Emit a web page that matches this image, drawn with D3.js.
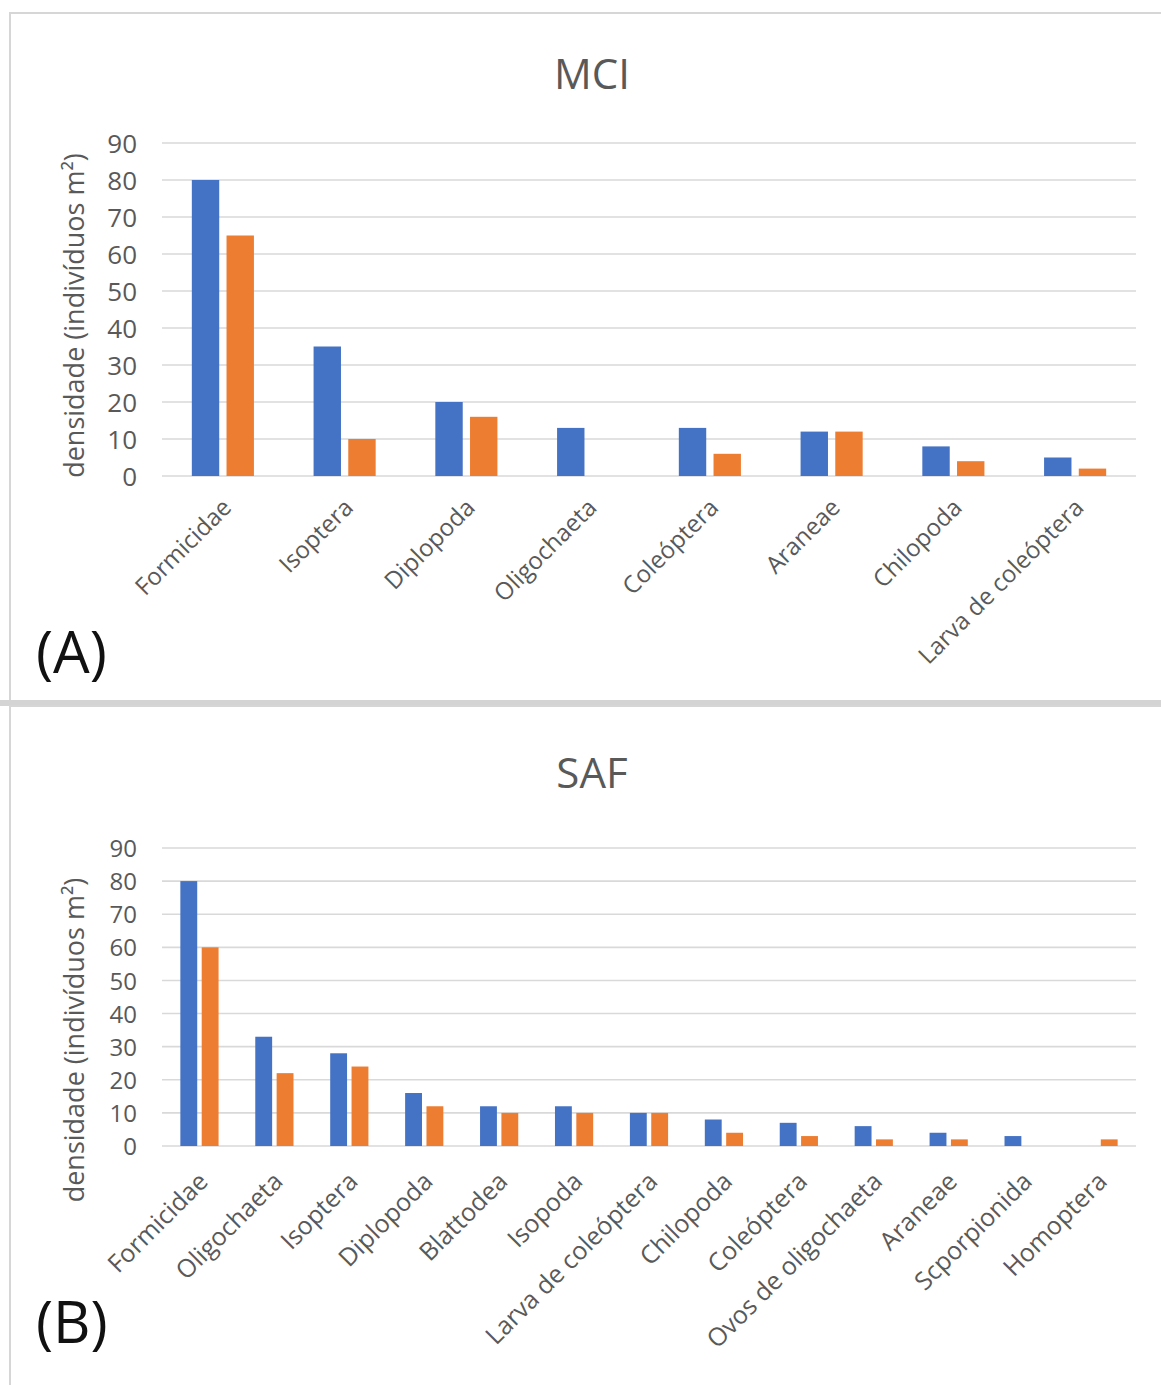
<!DOCTYPE html>
<html>
<head>
<meta charset="utf-8">
<script src="https://cdn.jsdelivr.net/npm/d3@7"></script>
<style>
  html, body { margin: 0; padding: 0; background: #fff; }
  svg { display: block; }
  text { font-family: "Open Sans", "Noto Sans", sans-serif; }
</style>
</head>
<body>
<svg id="chart" width="1161" height="1385"></svg>
<script>
// ---- Data ----
const categoriesA = ["Formicidae", "Isoptera", "Diplopoda", "Oligochaeta", "Coleóptera", "Araneae", "Chilopoda", "Larva de coleóptera"];
const series1A = [80, 35, 20, 13, 13, 12, 8, 5];
const series2A = [65, 10, 16, 0, 6, 12, 4, 2];

const categoriesB = ["Formicidae", "Oligochaeta", "Isoptera", "Diplopoda", "Blattodea", "Isopoda", "Larva de coleóptera", "Chilopoda", "Coleóptera", "Ovos de oligochaeta", "Araneae", "Scporpionida", "Homoptera"];
const series1B = [80, 33, 28, 16, 12, 12, 10, 8, 7, 6, 4, 3, 0];
const series2B = [60, 22, 24, 12, 10, 10, 10, 4, 3, 2, 2, 0, 2];

const yTicks = [0, 10, 20, 30, 40, 50, 60, 70, 80, 90];
const titles = ["MCI", "SAF"];
const panelLabels = ["(A)", "(B)"];
const yAxisTitle = "densidade (indivíduos m²)";

const colors = ["#4472C4", "#ED7D31"];
const textGrey = "#595959";

const svg = d3.select("#chart");

// Panel frames
svg.append("rect").attr("x", 10).attr("y", 13).attr("width", 1160).attr("height", 688)
  .attr("fill", "#fff").attr("stroke", "#d6d6d6").attr("stroke-width", 2);
svg.append("rect").attr("x", 0).attr("y", 700).attr("width", 1161).attr("height", 6).attr("fill", "#d4d4d4");
svg.append("rect").attr("x", 10).attr("y", 706).attr("width", 1160).attr("height", 700)
  .attr("fill", "#fff").attr("stroke", "#d6d6d6").attr("stroke-width", 2);

function drawPanel(cfg) {
  const g = svg.append("g");
  const x = d3.scaleBand().domain(cfg.categories).range([162, 1136]).padding(0);
  const y = d3.scaleLinear().domain([0, 90]).range([cfg.y0, cfg.y90]);

  // gridlines
  g.append("g").selectAll("line").data(yTicks).join("line")
    .attr("x1", 162).attr("x2", 1136)
    .attr("y1", d => y(d)).attr("y2", d => y(d))
    .attr("stroke", "#d9d9d9").attr("stroke-width", 1.6);

  // y axis labels
  const yAxis = d3.axisLeft(y).tickValues(yTicks).tickSize(0).tickPadding(0);
  const ya = g.append("g").attr("transform", "translate(137,0)").call(yAxis);
  ya.select(".domain").remove();
  ya.selectAll("text").attr("font-size", cfg.tickFont).attr("fill", textGrey)
    .attr("font-family", "'Open Sans', sans-serif").attr("dy", "0.36em");

  // bars
  const bw = x.bandwidth() * 0.225;
  const gap = x.bandwidth() * 0.06;
  [cfg.s1, cfg.s2].forEach((s, si) => {
    g.append("g").selectAll("rect").data(cfg.categories).join("rect")
      .attr("x", (c) => x(c) + x.bandwidth() / 2 + (si === 0 ? -(bw + gap / 2) : gap / 2))
      .attr("y", (c, i) => y(s[i]))
      .attr("width", bw)
      .attr("height", (c, i) => y(0) - y(s[i]))
      .attr("fill", colors[si]);
  });

  // x axis labels
  const xAxis = d3.axisBottom(x).tickSize(0).tickPadding(0);
  const xa = g.append("g").attr("transform", `translate(0,${cfg.y0})`).call(xAxis);
  xa.select(".domain").remove();
  xa.selectAll("text")
    .attr("font-size", cfg.xFont).attr("fill", textGrey)
    .attr("text-anchor", "end")
    .attr("font-family", "'Open Sans', sans-serif")
    .attr("dy", null).attr("y", null)
    .attr("transform", `translate(${cfg.xdx},${cfg.xdy}) rotate(-45)`);

  // title
  g.append("text").attr("x", 592).attr("y", cfg.titleY).attr("text-anchor", "middle")
    .attr("font-size", 42).attr("fill", textGrey).text(cfg.title);

  // y axis title
  g.append("text")
    .attr("transform", `translate(${cfg.ytX},${(cfg.y0 + cfg.y90) / 2 + cfg.ytDy}) rotate(-90)`)
    .attr("text-anchor", "middle").attr("font-size", cfg.ytFont).attr("fill", textGrey)
    .text(yAxisTitle);

  // panel label
  g.append("text").attr("x", 36).attr("y", cfg.labelY).attr("font-size", 58).attr("fill", "#111")
    .text(cfg.label);
}

drawPanel({
  categories: categoriesA, s1: series1A, s2: series2A,
  y0: 476, y90: 143, title: titles[0], titleY: 89, label: panelLabels[0], labelY: 673,
  tickFont: 26, xFont: 24, xdx: 10, xdy: 33, ytX: 84, ytDy: 6, ytFont: 27
});

drawPanel({
  categories: categoriesB, s1: series1B, s2: series2B,
  y0: 1146, y90: 848, title: titles[1], titleY: 788, label: panelLabels[1], labelY: 1343,
  tickFont: 24, xFont: 25, xdx: 10, xdy: 37, ytX: 84, ytDy: 43, ytFont: 27
});
</script>
</body>
</html>
